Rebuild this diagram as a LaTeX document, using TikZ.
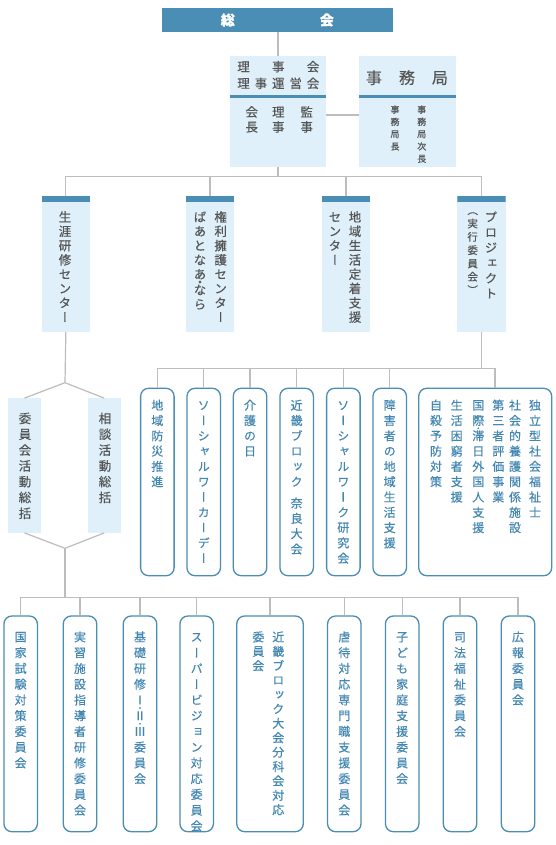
\documentclass[tikz,border=0pt]{standalone}
\usepackage{fontspec}
\usepackage{tikz}
\usetikzlibrary{positioning}
\setmainfont{Noto Sans CJK JP}[FakeBold=0.3]
\newfontfamily\tatefont[RawFeature=+vert,FakeBold=0.3]{Noto Sans CJK JP}
\definecolor{barb}{HTML}{4A8DB5}
\definecolor{paleb}{HTML}{DFF0FA}
\definecolor{lineg}{HTML}{BDBDBD}
\definecolor{darkt}{HTML}{555555}
\definecolor{textb}{HTML}{4287B2}
\makeatletter
\newlength\tatep
\let\tatesq\relax
\let\tatesp\relax
\def\tate@sq{\tatesq}
\def\tate@sp{\tatesp}
\newcommand\tatedot[1]{\makebox[0pt]{#1}\makebox[0pt]{\raisebox{-.5\tatep}{·}}}
\newcommand\tate[2][15.5pt]{\expandafter\tate@i\expandafter{#2}{#1}}
\def\tate@i#1#2{\vbox{\setlength\tatep{#2}\baselineskip=\tatep\lineskiplimit=-\maxdimen
  \@tfor\tate@x:=#1\do{\ifx\tate@x\tate@sq\vskip-.45\tatep\else\ifx\tate@x\tate@sp\vskip.4\tatep\else
  \hbox to 1em{\hss\vrule height.88em depth.12em width0pt\tate@x\hss}\fi\fi}}}
\makeatother
\tikzset{
  gline/.style={draw=lineg,line width=1.2pt},
  lbox/.style={fill=paleb,inner sep=0pt},
  hdbox/.style={lbox,path picture={\fill[barb] (path picture bounding box.north west) rectangle ([yshift=-6pt]path picture bounding box.north east);}},
  rbox/.style={draw=barb,line width=1.3pt,rounded corners=8pt,fill=white,inner sep=0pt},
  htxt/.style={inner sep=0pt,text=darkt,font=\fontsize{12.5}{14}\selectfont},
  vt/.style={anchor=north,inner sep=0pt,text=darkt,font=\tatefont\fontsize{12.5}{14}\selectfont},
  vtb/.style={vt,text=textb,font=\tatefont\fontsize{12}{14}\selectfont}
}
\begin{document}
\begin{tikzpicture}[x=1pt,y=-1pt]
\useasboundingbox[fill=white] (0,0) rectangle (555,845);
\node[fill=barb,minimum width=231.3pt,minimum height=23.4pt,inner sep=0pt,text=white,font=\bfseries\fontsize{14}{14}\selectfont] (soukai) at (277.35,20) {\makebox[113pt][s]{総\hfil 会}};
\node[lbox,minimum width=96pt,minimum height=111pt] (riji) at (278,111.5) {};
\node[lbox,minimum width=96.7pt,minimum height=111pt] (jimu) at (407.35,111.5) {};
\fill[barb] ([yshift=-39.7pt]riji.north west) rectangle ([yshift=-42.3pt]riji.north east);
\fill[barb] ([yshift=-39.7pt]jimu.north west) rectangle ([yshift=-42.3pt]jimu.north east);
\node[htxt] (riji1) at (278.3,66.7) {\makebox[82pt][s]{理\hfil 事\hfil 会}};
\node[htxt] (riji2) at (278.3,83.3) {\makebox[82pt][s]{理\hfil 事\hfil 運\hfil 営\hfil 会}};
\node[vt] (kaicho) at (251.7,105.5) {\tate[15pt]{会長}};
\node[vt] (rijit) at (278.3,105.5) {\tate[15pt]{理事}};
\node[vt] (kanji) at (306.7,105.5) {\tate[15pt]{監事}};
\node[htxt,font=\fontsize{16}{16}\selectfont] (jimu1) at (407,77.7) {\makebox[82pt][s]{事\hfil 務\hfil 局}};
\node[vt,font=\tatefont\fontsize{9}{9}\selectfont] (jkyoku) at (395,104.8) {\tate[12.3pt]{事務局長}};
\node[vt,font=\tatefont\fontsize{9}{9}\selectfont] (jjicho) at (421.7,104.8) {\tate[12.3pt]{事務局次長}};
\draw[gline] (riji.north) -- (riji.north |- soukai.south);
\draw[gline] ([yshift=-3.5pt]riji.east) -- ([yshift=-3.5pt]jimu.west);
\coordinate (bus2) at (278,176.7);
\draw[gline] (riji.south) -- (bus2);
\node[hdbox,minimum width=48.3pt,minimum height=136pt] (shogai) at (65.85,263.7) {};
\node[hdbox,minimum width=48.3pt,minimum height=136pt] (kenri) at (210,263.7) {};
\node[hdbox,minimum width=48.3pt,minimum height=136pt] (teichaku) at (346,263.7) {};
\node[hdbox,minimum width=48.3pt,minimum height=136pt] (project) at (481.5,263.7) {};
\draw[gline] (shogai.north) |- (bus2) -| (project.north);
\draw[gline] (kenri.north) -- (kenri.north |- bus2);
\draw[gline] (teichaku.north) -- (teichaku.north |- bus2);
\node[vt] (shogait) at (65,210.5) {\tate[14.3pt]{生涯研修センター}};
\node[vt] (kenrit) at (220.7,210.5) {\tate[14.3pt]{権利擁護センター}};
\node[vt] (kenrit2) at (200,210.5) {\tate[14.3pt]{ばあとなあ\tatesq・\tatesq なら}};
\node[vt] (teichakut) at (355,210.5) {\tate[14.3pt]{地域生活定着支援}};
\node[vt] (teichakut2) at (335,210.5) {\tate[14.3pt]{センター}};
\node[vt] (projectt) at (491,210.5) {\tate[15.3pt]{プロジェクト}};
\node[vt,font=\tatefont\fontsize{10.5}{12}\selectfont] (projectt2) at (472.7,204.8) {\tate[13.3pt]{（実行委員会）}};
% jigyo
\coordinate (bus3) at (481.5,368.3);
\draw[gline] (project.south) -- (bus3);
\foreach \nm/\cx/\txt in {hk1/157.35/地域防災推進, hk2/203.7/ソーシャルワーカーデー, hk3/250/介護の日, hk4/296.65/近畿ブロック\tatesp 奈良大会, hk5/343.35/ソーシャルワーク研究会, hk6/389.7/障害者の地域生活支援}{
  \node[rbox,minimum width=33.5pt,minimum height=187.4pt] (\nm) at (\cx,482) {};
  \node[vtb] (\nm t) at (\cx,399) {\tate[15.3pt]{\txt}};
}
\node[rbox,minimum width=133pt,minimum height=187.4pt] (hk7) at (485.2,482) {};
\foreach \cx/\txt [count=\k] in {535/独立型社会福祉士, 515/社会的養護関係施設, 498.3/第三者評価事業, 478.3/国{\tatedot 際}滞日外国人支援, 456.7/生活困窮者支援, 436/自殺予防対策}
  \node[vtb] (hk7t\k) at (\cx,399) {\tate[15.3pt]{\txt}};
\coordinate (hk7in) at ([xshift=9.8pt]hk7.north);
\draw[gline] (hk1.north) |- (bus3) -| (hk7in);
\foreach \k in {2,...,6}
  \draw[gline] (hk\k.north) -- (hk\k.north |- bus3);
% shogai kenshu
\coordinate (fork1) at (65,382.7);
\coordinate (fork2) at (65,548.3);
\node[lbox,minimum width=33pt,minimum height=134.4pt] (iinkai) at (24.5,465.5) {};
\node[lbox,minimum width=33pt,minimum height=134.4pt] (soudan) at (104.2,465.5) {};
\draw[gline] (shogai.south) -- (fork1);
\draw[gline] (iinkai.north) -- (fork1) -- (soudan.north);
\draw[gline] (iinkai.south) -- (fork2) -- (soudan.south);
\node[vt] (iinkait) at (25,412) {\tate[15.8pt]{委員会活動総括}};
\node[vt] (soudant) at (105,412) {\tate[15.8pt]{相談活動総括}};
% iinkai
\coordinate (bus5) at (65,597.3);
\draw[gline] (fork2) -- (bus5);
\foreach \nm/\cx/\txt in {ik1/20.65/国家試験対策委員会, ik2/80/実習施設指導者研修委員会, ik3/140/基礎研修{\tatedot Ⅰ}{\tatedot Ⅱ}Ⅲ委員会, ik4/196.65/スーパービジョン対応委員会, ik6/344.3/虐待対応専門職支援委員会, ik7/402.15/子ども家庭支援委員会, ik8/460/司法福祉委員会, ik9/518/広報委員会}{
  \node[rbox,minimum width=33.5pt,minimum height=215.7pt] (\nm) at (\cx,723.85) {};
  \node[vtb] (\nm t) at (\cx,630.7) {\tate[15.75pt]{\txt}};
}
\node[rbox,minimum width=66.6pt,minimum height=215.7pt] (ik5) at (270,723.85) {};
\node[vtb] (ik5t) at (278.3,630.7) {\tate[14.4pt]{近畿ブロック大会分科会対応}};
\node[vtb] (ik5t2) at (258.3,630.7) {\tate[14.4pt]{委員会}};
\draw[gline] (ik1.north) |- (bus5) -| (ik9.north);
\foreach \k in {2,...,8}
  \draw[gline] (ik\k.north) -- (ik\k.north |- bus5);
\end{tikzpicture}
\end{document}
